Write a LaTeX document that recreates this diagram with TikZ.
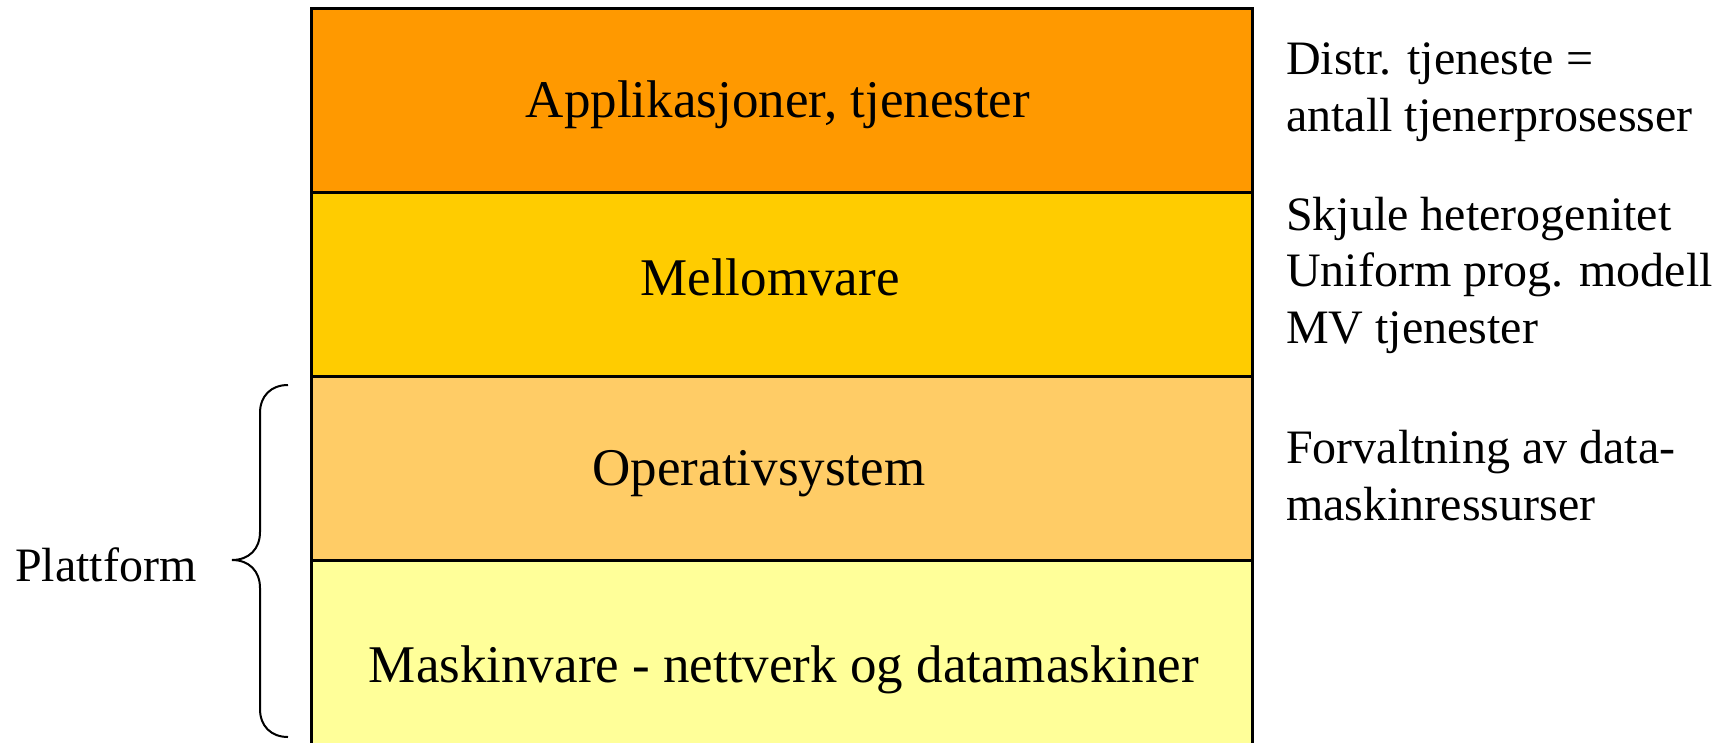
\documentclass[tikz,border=0pt]{standalone}
\usepackage{fontspec}
\setmainfont{Liberation Serif}
\definecolor{appcol}{HTML}{FF9900}
\definecolor{midcol}{HTML}{FFCC00}
\definecolor{oscol}{HTML}{FFCC66}
\definecolor{hwcol}{HTML}{FFFF99}
\tikzset{
  layer/.style={draw=black, line width=3pt},
  layertext/.style={anchor=base, inner sep=0pt, font=\fontsize{53}{60}\selectfont},
  sidetext/.style={anchor=base west, inner sep=0pt, align=left, font=\fontsize{48}{56.5}\selectfont},
  bracestyle/.style={draw=black, line width=2pt}
}
\begin{document}
\begin{tikzpicture}[x=1pt, y=-1pt]
\useasboundingbox (0,0) rectangle (1726,742);
\clip (0,0) rectangle (1726,742);
% layer stack
\fill[appcol] (311,8) rectangle (1252,192);
\fill[midcol] (311,192) rectangle (1252,376);
\fill[oscol]  (311,376) rectangle (1252,560);
\fill[hwcol]  (311,560) rectangle (1252,760);
\draw[layer] (311,760) -- (311,8) -- (1252,8) -- (1252,760);
\draw[layer] (311,192) -- (1252,192);
\draw[layer] (311,376) -- (1252,376);
\draw[layer] (311,560) -- (1252,560);
% layer labels
\node[layertext] (app) at (778,117.7) {Applikasjoner, tjenester};
\node[layertext] (mid) at (770,295.7) {Mellomvare};
\node[layertext] (os)  at (759,485.7) {Operativsystem};
\node[layertext] (hw)  at (784,682.7) {Maskinvare - nettverk og datamaskiner};
% notes on the right (anchored at the baseline of their last line)
\node[sidetext] (n1) at (1286,131) {Distr. tjeneste =\\antall tjenerprosesser};
\node[sidetext] (n2) at (1286,343) {Skjule heterogenitet\\Uniform prog. modell\\MV tjenester};
\node[sidetext] (n3) at (1286,520) {Forvaltning av data-\\maskinressurser};
% platform brace
\draw[bracestyle] (288,385) .. controls (271,385) and (260,396) .. (260,413)
  -- (260,532) .. controls (260,549) and (249,560) .. (232,560)
  .. controls (249,560) and (260,571) .. (260,588)
  -- (260,709) .. controls (260,726) and (271,737) .. (288,737);
\node[sidetext] (plat) at (15,581.7) {Plattform};
\end{tikzpicture}
\end{document}
